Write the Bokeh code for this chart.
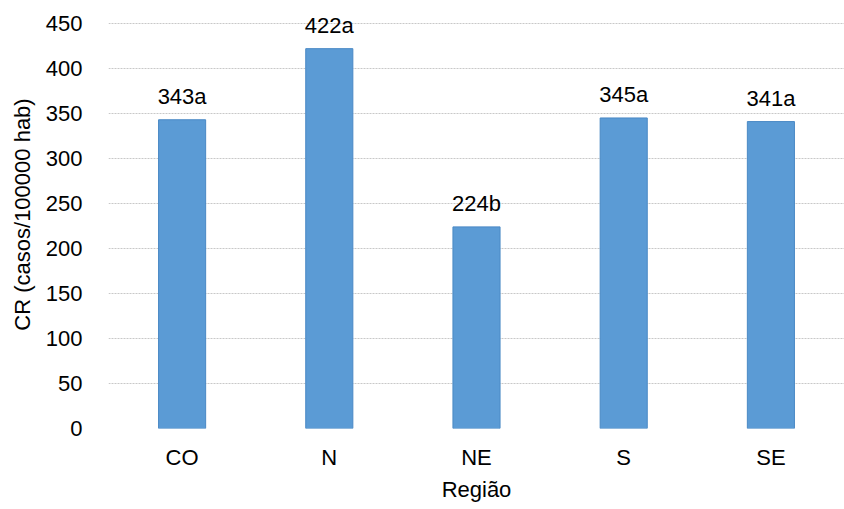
from bokeh.plotting import figure
from bokeh.models import ColumnDataSource, FixedTicker
from bokeh.core.properties import value
from bokeh.embed import file_html
from bokeh.resources import INLINE

regions = ["CO", "N", "NE", "S", "SE"]
rates = [343, 422, 224, 345, 341]
groups = ["a", "a", "b", "a", "a"]
y_ticks = [0, 50, 100, 150, 200, 250, 300, 350, 400, 450]

labels = [f"{v}{g}" for v, g in zip(rates, groups)]
src = ColumnDataSource(dict(x=regions, top=rates, label=labels))

FONT = "Liberation Sans"
FS = "22px"

# frame extends a little above 450 so the tallest bar label has room
p = figure(
    x_range=regions, y_range=(0, 475.5),
    frame_width=736, frame_height=428,
    min_border_left=108, min_border_right=0,
    min_border_top=0, min_border_bottom=81,
    output_backend="svg", toolbar_location=None,
)
p.width = 844
p.height = 509

p.vbar(x="x", top="top", width=0.32, source=src,
       fill_color="#5B9BD5", line_color="#4A89C5", line_width=1)

p.text(x="x", y="top", text="label", source=src,
       text_align="center", text_baseline="bottom", y_offset=-11,
       text_font=value(FONT), text_font_size=FS, text_color="#000000")

p.outline_line_color = None
p.xgrid.grid_line_color = None
p.ygrid.grid_line_color = "#c8c8c8"
p.ygrid.grid_line_dash = "2 1"
p.ygrid.grid_line_width = 1
p.yaxis.ticker = FixedTicker(ticks=y_ticks)

for ax in (p.xaxis[0], p.yaxis[0]):
    ax.axis_line_color = None
    ax.major_tick_line_color = None
    ax.minor_tick_line_color = None
    ax.major_label_text_font = FONT
    ax.major_label_text_font_size = FS
    ax.major_label_text_color = "#000000"
    ax.axis_label_text_font = FONT
    ax.axis_label_text_font_size = FS
    ax.axis_label_text_font_style = "normal"
    ax.axis_label_text_color = "#000000"

p.xaxis.axis_label = "Região"
p.xaxis.major_label_standoff = 10
p.xaxis.axis_label_standoff = 4
p.yaxis.axis_label = "CR (casos/100000 hab)"
p.yaxis.major_label_standoff = 20
p.yaxis.axis_label_standoff = 8

open("out.html", "w").write(file_html(p, INLINE))
